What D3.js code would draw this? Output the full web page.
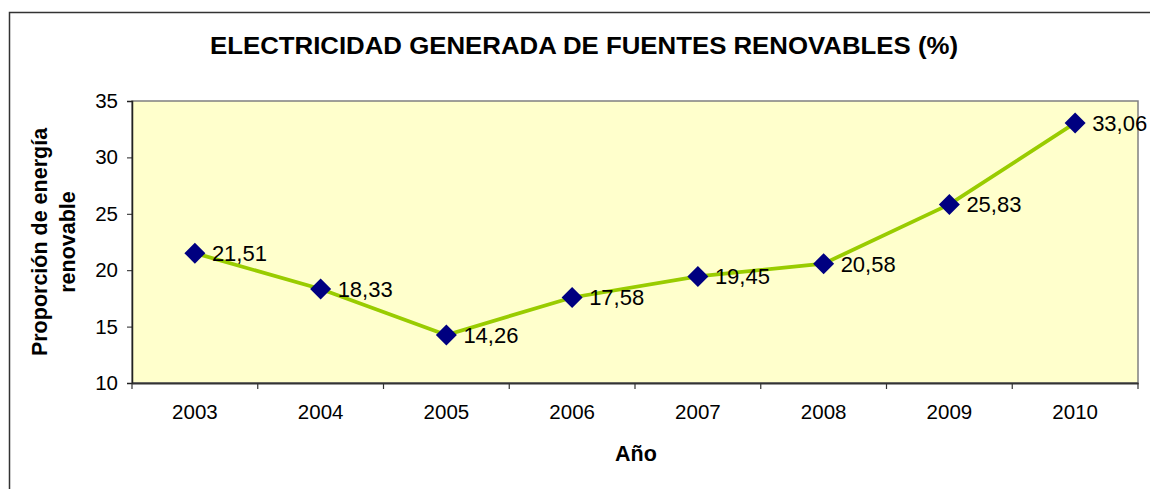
<!DOCTYPE html>
<html>
<head>
<meta charset="utf-8">
<script src="https://cdn.jsdelivr.net/npm/d3@7"></script>
<style>
  body { margin: 0; background: #fff; }
  text { font-family: Arial, "Liberation Sans", sans-serif; fill: #000; }
</style>
</head>
<body>
<svg id="chart" width="1150" height="489"></svg>
<script>
var years = ['2003', '2004', '2005', '2006', '2007', '2008', '2009', '2010'];
var values = [21.51, 18.33, 14.26, 17.58, 19.45, 20.58, 25.83, 33.06];
var yTicks = [10, 15, 20, 25, 30, 35];

var svg = d3.select('#chart');
var plotL = 132, plotR = 1138, plotT = 101, plotB = 383;

// outer frame (runs off the right and bottom of the picture)
svg.append('rect')
	.attr('x', 9.5).attr('y', 12.5)
	.attr('width', 1200).attr('height', 600)
	.style('fill', 'none')
	.style('stroke', '#333')
	.style('stroke-width', 1.5);

var x = d3.scaleBand().domain(years).range([plotL, plotR]);
var y = d3.scaleLinear().domain([10, 35]).range([plotB, plotT]);

// plot area
svg.append('rect')
	.attr('x', plotL).attr('y', plotT)
	.attr('width', plotR - plotL).attr('height', plotB - plotT)
	.style('fill', '#FFFFCC')
	.style('stroke', '#808080')
	.style('stroke-width', 1.5);

// y axis
var yAxis = svg.append('g')
	.attr('transform', 'translate(' + plotL + ',0)')
	.call(d3.axisLeft(y).tickValues(yTicks).tickSize(5).tickPadding(9));
yAxis.select('.domain').style('stroke', '#222').style('stroke-width', 1.5);
yAxis.selectAll('.tick line').style('stroke', '#222');
yAxis.selectAll('.tick text')
	.style('font-size', '20.5px')
	.style('font-family', 'Arial, "Liberation Sans", sans-serif')
	.style('fill', '#000');

// x axis, ticks between categories
var xAxis = svg.append('g')
	.attr('transform', 'translate(0,' + plotB + ')')
	.call(d3.axisBottom(x).tickSize(0).tickPadding(21));
xAxis.select('.domain').style('stroke', '#333').style('stroke-width', 2);
xAxis.selectAll('.tick text')
	.style('font-size', '20.5px')
	.style('font-family', 'Arial, "Liberation Sans", sans-serif')
	.style('fill', '#000');

var bounds = years.map(function(d) { return x(d); }).concat([plotR]);
svg.append('g').selectAll('line')
	.data(bounds)
	.enter().append('line')
	.attr('x1', function(d) { return d; })
	.attr('x2', function(d) { return d; })
	.attr('y1', plotB)
	.attr('y2', plotB + 6)
	.style('stroke', '#333')
	.style('stroke-width', 1.2);

// line
var cx = function(d, i) { return x(years[i]) + x.bandwidth() / 2; };
var line = d3.line()
	.x(cx)
	.y(function(d) { return y(d); });

svg.append('path')
	.datum(values)
	.attr('d', line)
	.style('fill', 'none')
	.style('stroke', '#99CC00')
	.style('stroke-width', 3.8);

// diamond markers
svg.append('g').selectAll('path')
	.data(values)
	.enter().append('path')
	.attr('transform', function(d, i) { return 'translate(' + cx(d, i) + ',' + y(d) + ')'; })
	.attr('d', 'M0,-10.5L10.5,0L0,10.5L-10.5,0Z')
	.style('fill', '#000080');

// value labels
svg.append('g').selectAll('text')
	.data(values)
	.enter().append('text')
	.attr('x', function(d, i) { return cx(d, i) + 17; })
	.attr('y', function(d) { return y(d) + 8; })
	.style('font-size', '22px')
	.text(function(d) { return d.toFixed(2).replace('.', ','); });

// titles
svg.append('text')
	.attr('x', 210).attr('y', 54)
	.attr('textLength', 748)
	.attr('lengthAdjust', 'spacingAndGlyphs')
	.style('font-size', '23px')
	.style('font-weight', 'bold')
	.text('ELECTRICIDAD GENERADA DE FUENTES RENOVABLES (%)');

svg.append('text')
	.attr('x', 636).attr('y', 461)
	.attr('text-anchor', 'middle')
	.style('font-size', '21.5px')
	.style('font-weight', 'bold')
	.text('Año');

var yTitle = svg.append('text')
	.attr('transform', 'translate(47,' + ((plotT + plotB) / 2) + ') rotate(-90)')
	.attr('text-anchor', 'middle')
	.style('font-size', '21.5px')
	.style('font-weight', 'bold');
yTitle.append('tspan').attr('x', 0).attr('y', 0).text('Proporción de energía');
yTitle.append('tspan').attr('x', 0).attr('y', 28).text('renovable');
</script>
</body>
</html>
